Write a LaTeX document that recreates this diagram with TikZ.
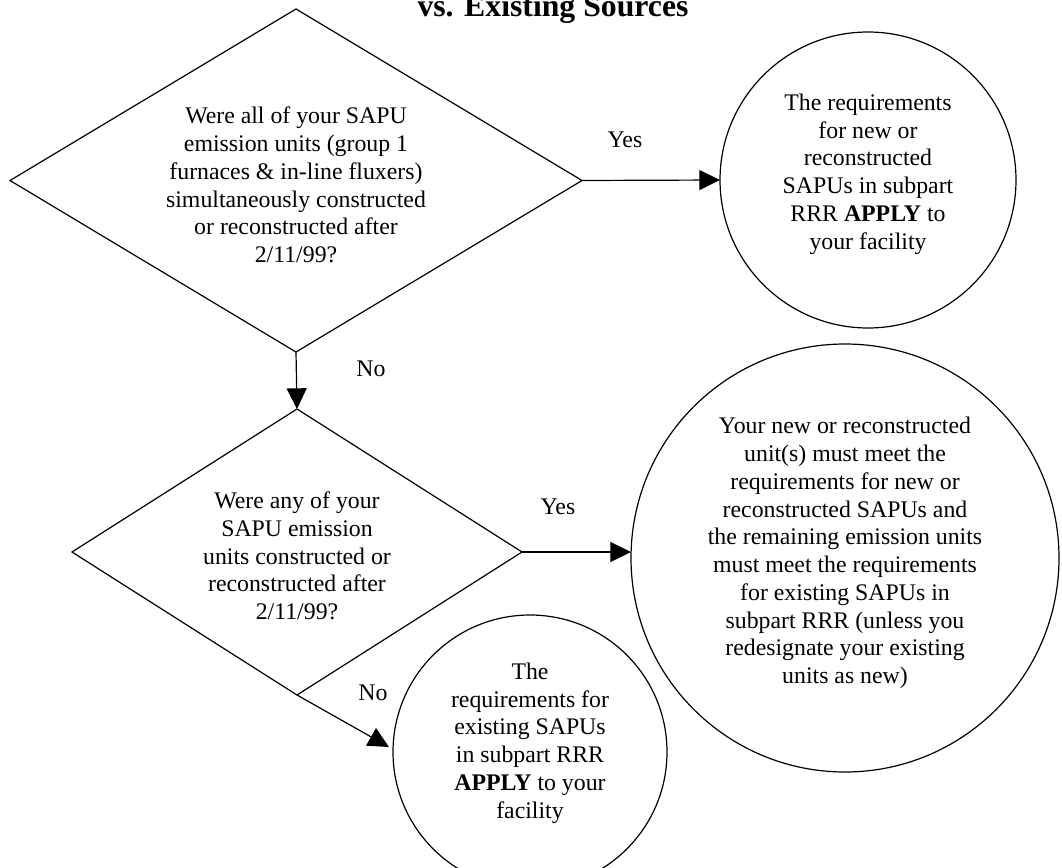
\documentclass[tikz,border=0pt]{standalone}
\usepackage{fontspec}
\setmainfont{Liberation Serif}
\usetikzlibrary{shapes.geometric,arrows.meta}
\begin{document}
\begin{tikzpicture}[x=0.75pt,y=-0.75pt,
  shapeline/.style={draw=black,line width=0.9pt,inner sep=0pt,outer sep=0pt},
  txt/.style={align=center,font=\fontsize{17.85}{20.8}\selectfont,inner sep=0pt},
  arr/.style={line width=0.9pt,-{Triangle[width=15pt,length=15.5pt]}},
  lbl/.style={font=\fontsize{17.85}{20.8}\selectfont,inner sep=0pt}]
\useasboundingbox (0,0) rectangle (1062,867);
% title (cut at the top edge)
\node[font=\bfseries\fontsize{23.8}{27}\selectfont,anchor=base,inner sep=0pt] (title) at (553,17) {vs. Existing Sources};
% shapes
\node[diamond,shapeline,minimum width=429pt,minimum height=257.25pt] (d1) at (296,180.5) {};
\node[diamond,shapeline,minimum width=337.5pt,minimum height=214.5pt] (d2) at (297,552) {};
\node[circle,shapeline,minimum size=222pt] (c1) at (868,180) {};
\node[circle,shapeline,minimum size=321pt] (c2) at (845,558) {};
\node[circle,shapeline,minimum size=205.5pt] (c3) at (530,752) {};
% texts
\node[txt] (t1) at (296,185) {Were all of your SAPU\\emission units (group 1\\furnaces \& in-line fluxers)\\simultaneously constructed\\or reconstructed after\\2/11/99?};
\node[txt] (t2) at (297,556) {Were any of your\\SAPU emission\\units constructed or\\reconstructed after\\2/11/99?};
\node[txt] (t3) at (868,174) {The requirements\\for new or\\reconstructed\\SAPUs in subpart\\RRR \textbf{APPLY} to\\your facility};
\node[txt] (t4) at (845,553) {Your new or reconstructed\\unit(s) must meet the\\requirements for new or\\reconstructed SAPUs and\\the remaining emission units\\must meet the requirements\\for existing SAPUs in\\subpart RRR (unless you\\redesignate your existing\\units as new)};
\node[txt] (t5) at (530,743) {The\\requirements for\\existing SAPUs\\in subpart RRR\\\textbf{APPLY} to your\\facility};
% labels
\node[lbl] (yes1) at (625,140) {Yes};
\node[lbl] (no1) at (371,369) {No};
\node[lbl] (yes2) at (558,507) {Yes};
\node[lbl] (no2) at (373,693) {No};
% connectors
\coordinate (noend) at (389,747);
\draw[arr] (d1.east) -- (c1.west);
\draw[arr] (d1.south) -- (d2.north);
\draw[arr] (d2.east) -- (c2.west |- d2.east);
\draw[arr] (d2.south) -- (noend);
\end{tikzpicture}
\end{document}
